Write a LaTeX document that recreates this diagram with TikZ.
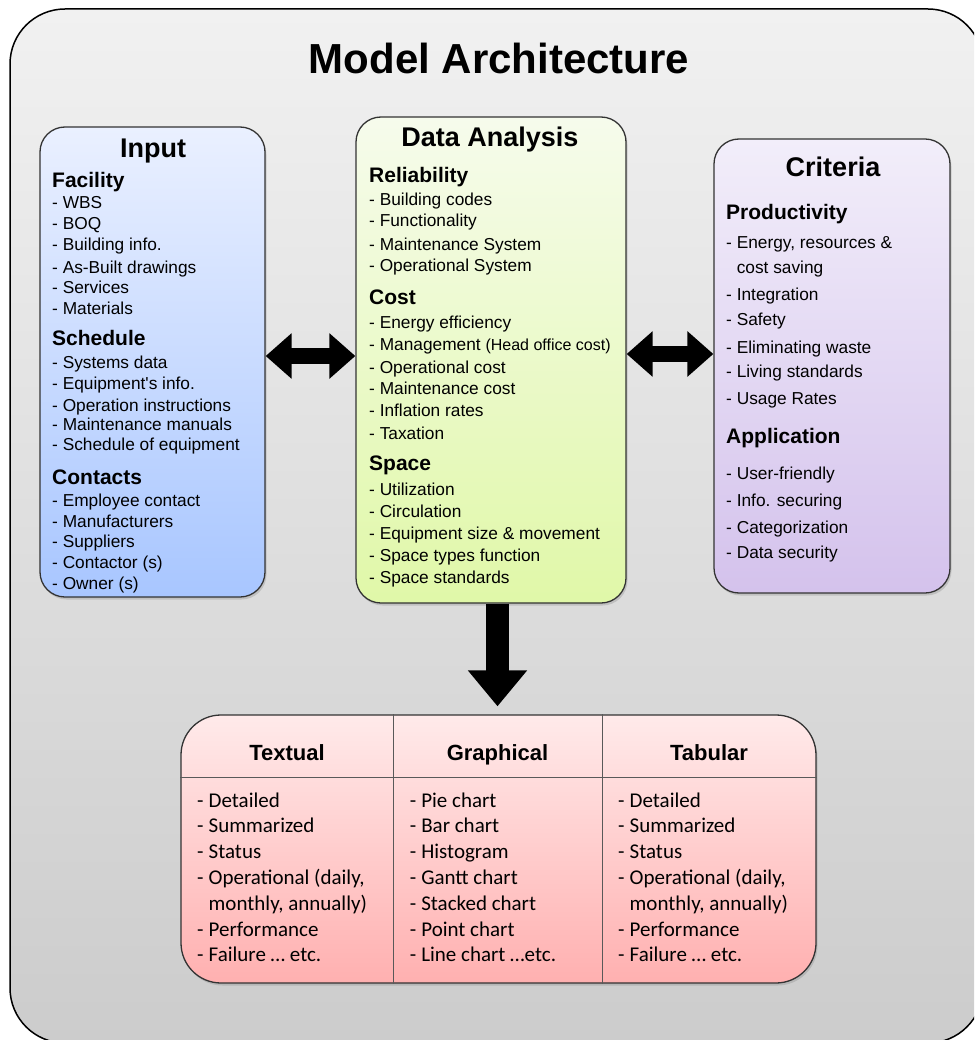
\documentclass[tikz,border=0pt]{standalone}
\usepackage{fontspec}
\setmainfont{Liberation Sans}
\newfontfamily\straightsans{Liberation Sans}
\newfontfamily\carlito{Carlito}
\usetikzlibrary{arrows.meta,shadows}
\definecolor{inTop}{RGB}{234,240,255}
\definecolor{inBot}{RGB}{168,198,255}
\definecolor{daTop}{RGB}{246,251,236}
\definecolor{daBot}{RGB}{224,248,168}
\definecolor{crTop}{RGB}{242,238,250}
\definecolor{crBot}{RGB}{212,194,236}
\definecolor{tbTop}{RGB}{255,234,234}
\definecolor{tbBot}{RGB}{255,176,176}
\definecolor{frTop}{RGB}{241,241,241}
\definecolor{frBot}{RGB}{204,204,204}
\newcommand\tdash{\makebox[11.5pt][l]{-}}
\begin{document}
\begin{tikzpicture}[x=1pt,y=-1pt,
  frame/.style={draw=black, line width=1.5pt, rounded corners=55pt, inner sep=0pt,
    top color=frTop, bottom color=frBot},
  box/.style={draw=black!80, line width=1.3pt, rounded corners=25pt, inner sep=0pt,
    drop shadow={opacity=0.3, shadow xshift=1.5pt, shadow yshift=-2.5pt}},
  maintitle/.style={anchor=base, inner sep=0pt, font=\fontsize{42}{48}\selectfont\bfseries},
  ttl/.style={anchor=base, inner sep=0pt, font=\fontsize{27}{32}\selectfont\bfseries},
  hd/.style={anchor=base west, inner sep=0pt, font=\fontsize{21}{25}\selectfont\bfseries},
  it/.style={anchor=base west, inner sep=0pt, font=\fontsize{17.3}{20}\selectfont},
  tit/.style={anchor=base west, inner sep=0pt, font=\carlito\fontsize{21}{25}\selectfont},
  thd/.style={anchor=base, inner sep=0pt, font=\fontsize{22}{26}\selectfont\bfseries},
  tline/.style={draw=black!65, line width=1pt},
  dblarrow/.style={line width=16pt, black, {Triangle[length=26pt,width=44pt]}-{Triangle[length=26pt,width=44pt]}},
  downarrow/.style={line width=23pt, black, -{Triangle[length=36pt,width=57pt]}}
]
\useasboundingbox (0,0) rectangle (974,1040);
\clip (0,0) rectangle (974,1040);

% outer frame
\node[frame, minimum width=973pt, minimum height=1034pt] (frame) at (496.5,526) {};
\node[maintitle] (title) at (499,74) {Model Architecture};

% boxes
\node[box, top color=inTop, bottom color=inBot, minimum width=225pt, minimum height=470pt] (input) at (152.5,362) {};
\node[box, top color=daTop, bottom color=daBot, minimum width=270pt, minimum height=486pt] (da) at (491,360) {};
\node[box, top color=crTop, bottom color=crBot, minimum width=236pt, minimum height=454pt] (crit) at (832,366) {};
\node[box, rounded corners=40pt, top color=tbTop, bottom color=tbBot, minimum width=635pt, minimum height=268pt] (tab) at (498.5,849) {};

% arrows
\draw[dblarrow] ([yshift=6pt]input.east) -- ([yshift=4pt]da.west);
\draw[dblarrow] ([yshift=6pt]da.east) -- ([yshift=12pt]crit.west);
\draw[downarrow, shorten >=8pt] ([xshift=6.5pt]da.south) -- ([xshift=-1pt]tab.north);

% Input
\node[ttl] (inT) at (153,158) {Input};
\node[hd] (inH1) at (52,187.5) {Facility};
\node[hd] (inH2) at (52,345.5) {Schedule};
\node[hd] (inH3) at (52,484.5) {Contacts};
\foreach \y/\t [count=\i] in {209/{- WBS},230/{- BOQ},251/{- Building info.},273/{- As-Built drawings},294/{- Services},314/{- Materials},
  368/{- Systems data},389/{- Equipment{\straightsans'}s info.},411/{- Operation instructions},430/{- Maintenance manuals},450/{- Schedule of equipment},
  506/{- Employee contact},527/{- Manufacturers},547/{- Suppliers},568/{- Contactor (s)},589/{- Owner (s)}}
  \node[it] (inI\i) at (52,\y) {\t};

% Data Analysis
\node[ttl] (daT) at (490,147) {Data Analysis};
\node[hd] (daH1) at (369,182.5) {Reliability};
\node[hd] (daH2) at (369,304.5) {Cost};
\node[hd] (daH3) at (369,470.5) {Space};
\foreach \y/\t [count=\i] in {206/{- Building codes},227/{- Functionality},251/{- Maintenance System},272/{- Operational System},
  328/{- Energy efficiency},350/{- Management {\fontsize{16}{19}\selectfont(Head office cost)}},373/{- Operational cost},394/{- Maintenance cost},416/{- Inflation rates},439/{- Taxation},
  495/{- Utilization},517/{- Circulation},539/{- Equipment size \& movement},561/{- Space types function},583/{- Space standards}}
  \node[it] (daI\i) at (369,\y) {\t};

% Criteria
\node[ttl] (crT) at (833,177) {Criteria};
\node[hd] (crH1) at (726,219.5) {Productivity};
\node[hd] (crH2) at (726,443.5) {Application};
\foreach \y/\t [count=\i] in {249/{- Energy, resources \&},273/{\phantom{- }cost saving},300/{- Integration},325/{- Safety},353/{- Eliminating waste},377/{- Living standards},404/{- Usage Rates},
  479/{- User-friendly},506/{- Info. securing},533/{- Categorization},558/{- Data security}}
  \node[it] (crI\i) at (726,\y) {\t};

% Table lines
\draw[tline] (tab.west |- 0,777) -- (tab.east |- 0,777);
\draw[tline] (tab.north -| 393,0) -- (tab.south -| 393,0);
\draw[tline] (tab.north -| 602,0) -- (tab.south -| 602,0);

% Table headers
\node[thd] (tH1) at (287,760) {Textual};
\node[thd] (tH2) at (497.5,760) {Graphical};
\node[thd] (tH3) at (709,760) {Tabular};

\foreach \y/\t [count=\i] in {807/{\tdash Detailed},832.8/{\tdash Summarized},858.6/{\tdash Status},884.4/{\tdash Operational (daily,},910.2/{\hspace*{11.5pt}monthly, annually)},936/{\tdash Performance},961.8/{\tdash Failure … etc.}}
  \node[tit] (tA\i) at (197,\y) {\t};
\foreach \y/\t [count=\i] in {807/{\tdash Pie chart},832.8/{\tdash Bar chart},858.6/{\tdash Histogram},884.4/{\tdash Gantt chart},910.2/{\tdash Stacked chart},936/{\tdash Point chart},961.8/{\tdash Line chart …etc.}}
  \node[tit] (tB\i) at (409.6,\y) {\t};
\foreach \y/\t [count=\i] in {807/{\tdash Detailed},832.8/{\tdash Summarized},858.6/{\tdash Status},884.4/{\tdash Operational (daily,},910.2/{\hspace*{11.5pt}monthly, annually)},936/{\tdash Performance},961.8/{\tdash Failure … etc.}}
  \node[tit] (tC\i) at (618,\y) {\t};
\end{tikzpicture}
\end{document}
